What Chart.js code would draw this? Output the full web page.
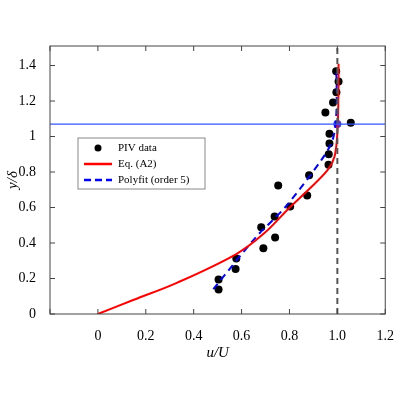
<!DOCTYPE html>
<html><head><meta charset="utf-8">
<script src="https://cdn.jsdelivr.net/npm/chart.js@4/dist/chart.umd.min.js"></script>
<style>html,body{margin:0;background:#fff}#w{width:400px;height:400px}</style>
</head><body><div id="w"><canvas id="c"></canvas></div>
<script>
const pivX=[0.995,1.005,0.996,0.982,0.95,1.056,0.967,0.967,0.964,0.963,0.882,0.753,0.874,0.803,0.738,0.682,0.74,0.691,0.578,0.575,0.504,0.504];
const pivY=[1.368,1.31,1.249,1.192,1.135,1.077,1.016,0.96,0.9,0.841,0.782,0.724,0.667,0.605,0.55,0.489,0.431,0.37,0.313,0.253,0.194,0.138];
const eqX=[0,0.15,0.332,0.578,0.693,0.803,0.877,0.959,0.988,1.0,1.004,1.005];
const eqY=[0,0.08,0.177,0.338,0.453,0.603,0.697,0.81,0.886,1.02,1.2,1.41];
const fitX=[0.482,0.66,0.783,0.933,0.98,0.995,0.997,0.995];
const fitY=[0.14,0.433,0.603,0.867,0.98,1.113,1.3,1.37];
const hLineY=1.07;
const refX=1.0;
const xTicks=[-0.2,0,0.2,0.4,0.6,0.8,1.0,1.2];
const yTicks=[0,0.2,0.4,0.6,0.8,1,1.2,1.4];
const xLabels=['','0','0.2','0.4','0.6','0.8','1.0','1.2'];
const yLabels=['0','0.2','0.4','0.6','0.8','1','1.2','1.4'];
const pts=(xs,ys)=>xs.map((x,i)=>({x,y:ys[i]}));
const F='"Liberation Serif", serif';
const deco={id:'deco',afterDraw(ch){
  const c=ch.ctx,a=ch.chartArea,xs=ch.scales.x,ys=ch.scales.y;
  c.save();c.strokeStyle='#444';c.lineWidth=1;
  c.strokeRect(a.left,a.top,a.right-a.left,a.bottom-a.top);
  c.beginPath();
  xTicks.forEach(v=>{const p=xs.getPixelForValue(v);c.moveTo(p,a.bottom);c.lineTo(p,a.bottom-5);c.moveTo(p,a.top);c.lineTo(p,a.top+5);});
  yTicks.forEach(v=>{const p=ys.getPixelForValue(v);c.moveTo(a.left,p);c.lineTo(a.left+5,p);c.moveTo(a.right,p);c.lineTo(a.right-5,p);});
  c.stroke();
  const L=78,T=138,W=127,H=51;
  c.fillStyle='#fff';c.fillRect(L,T,W,H);c.strokeStyle='#888';c.strokeRect(L,T,W,H);
  c.font='11px '+F;c.textBaseline='middle';c.fillStyle='#000';
  const labs=['PIV data','Eq. (A2)','Polyfit (order 5)'];
  labs.forEach((t,i)=>{const y=T+10+i*16;
    if(i==0){c.beginPath();c.arc(L+20,y,3.5,0,7);c.fill();}
    else{c.beginPath();c.strokeStyle=i==1?'#f00':'#00f';c.lineWidth=2.5;c.setLineDash(i==2?[7,4]:[]);c.moveTo(L+6,y);c.lineTo(L+34,y);c.stroke();c.setLineDash([]);}
    c.fillStyle='#000';c.fillText(t,L+40,y);});
  c.restore();
}};
new Chart(document.getElementById('c'),{
  type:'scatter',
  data:{datasets:[
    {data:pts([-0.2,1.2],[hLineY,hLineY]),showLine:true,borderColor:'#3355ff',borderWidth:1.2,pointRadius:0},
    {data:pts([refX,refX],[0,1.51]),showLine:true,borderColor:'#555',borderWidth:2,borderDash:[6,4],pointRadius:0},
    {data:pts(eqX,eqY),showLine:true,borderColor:'#ff0000',borderWidth:2,pointRadius:0,tension:0.35},
    {data:pts(fitX,fitY),showLine:true,borderColor:'#0000ff',borderWidth:2,borderDash:[7,5],pointRadius:0,tension:0.3},
    {data:pts(pivX,pivY),backgroundColor:'#000',borderWidth:0,pointRadius:4},
    {data:[{x:refX,y:hLineY}],backgroundColor:'#2244ff',borderWidth:0,pointRadius:4}
  ]},
  options:{responsive:true,maintainAspectRatio:false,animation:false,
    layout:{padding:{top:46,right:0,bottom:34,left:0}},
    plugins:{legend:{display:false},tooltip:{enabled:false}},
    scales:{
      x:{type:'linear',min:-0.2,max:1.2,grid:{display:false},border:{display:false},
        afterBuildTicks:s=>{s.ticks=xTicks.map(v=>({value:v}));},
        afterFit:s=>{s.height=52;},
        ticks:{padding:6,color:'#000',font:{family:F,size:14},callback:(v,i)=>xLabels[i]},
        title:{display:true,text:'u/U',color:'#000',font:{family:F,size:15,style:'italic'},padding:{top:2}}},
      y:{min:0,max:1.51,grid:{display:false},border:{display:false},
        afterBuildTicks:s=>{s.ticks=yTicks.map(v=>({value:v}));},
        afterFit:s=>{s.width=50;},
        ticks:{padding:6,color:'#000',font:{family:F,size:14},callback:(v,i)=>yLabels[i]},
        title:{display:true,text:'y/δ',color:'#000',font:{family:F,size:15,style:'italic'},padding:{bottom:0}}}
    }},
  plugins:[deco]
});
</script></body></html>
